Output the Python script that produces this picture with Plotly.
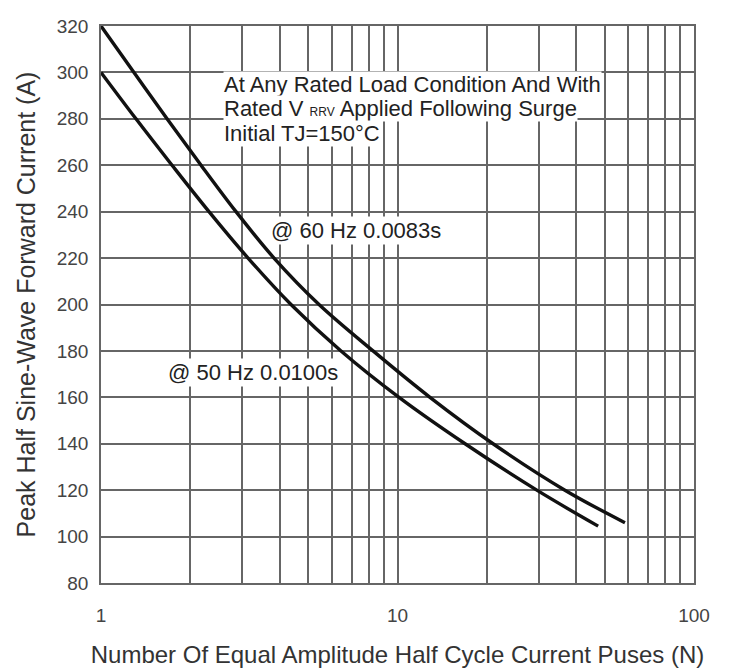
import plotly.graph_objects as go

# ---- data ----
n_60hz = [1, 1.292, 1.670, 2.175, 2.853, 3.833, 5.436, 8.27, 12.87, 21.0, 36.7, 58.5]
i_60hz = [320, 300, 280, 260, 240, 220, 200, 180, 160, 140, 120, 106]

n_50hz = [1, 1.312, 1.736, 2.313, 3.133, 4.373, 6.449, 10.12, 16.9, 29.5, 47.5]
i_50hz = [300, 280, 260, 240, 220, 200, 180, 160, 140, 120, 104.5]

x_tickvals = [1, 2, 3, 4, 5, 6, 7, 8, 9, 10, 20, 30, 40, 50, 60, 70, 80, 90, 100]
x_ticktext = ["1", "", "", "", "", "", "", "", "", "10", "", "", "", "", "", "", "", "", "100"]
y_tickvals = [80, 100, 120, 140, 160, 180, 200, 220, 240, 260, 280, 300, 320]

label_60 = "@ 60 Hz 0.0083s"
label_50 = "@ 50 Hz 0.0100s"
note_lines = [
    "At Any Rated Load Condition And With",
    "Rated V <span style='font-size:12px'>RRV</span> Applied Following Surge",
    "Initial TJ=150°C",
]

FONT = "Liberation Sans, Arial, sans-serif"
GRID = "#666666"

fig = go.Figure()
for xs, ys, nm in [(n_60hz, i_60hz, "60 Hz"), (n_50hz, i_50hz, "50 Hz")]:
    fig.add_trace(go.Scatter(x=xs, y=ys, mode="lines",
                             line=dict(color="#111111", width=3.4, shape="spline", smoothing=1.0),
                             name=nm, showlegend=False, hoverinfo="x+y"))

fig.update_layout(
    width=724, height=664,
    margin=dict(l=93, r=38, t=8, b=85),
    paper_bgcolor="white", plot_bgcolor="white",
    font=dict(family=FONT, color="#333333"),
    xaxis=dict(type="log", range=[0, 2],
               tickmode="array", tickvals=x_tickvals, ticktext=x_ticktext,
               showgrid=True, gridcolor=GRID, gridwidth=1.6,
               showline=True, linecolor=GRID, linewidth=1.6, mirror=True,
               ticks="", zeroline=False,
               tickfont=dict(size=19, color="#444444", family=FONT),
               ticklabelstandoff=14,
               title=dict(text="Number Of Equal Amplitude Half Cycle Current Puses (N)",
                          font=dict(size=24, color="#333333", family=FONT), standoff=22)),
    yaxis=dict(range=[80, 320], tickmode="array", tickvals=y_tickvals,
               showgrid=True, gridcolor=GRID, gridwidth=1.6,
               showline=True, linecolor=GRID, linewidth=1.6, mirror=True,
               ticks="", zeroline=False, ticklabeloverflow="allow",
               tickfont=dict(size=19, color="#444444", family=FONT),
               ticklabelstandoff=7,
               title=dict(text="Peak Half Sine-Wave Forward Current (A)",
                          font=dict(size=25, color="#333333", family=FONT), standoff=14)),
)

note_y = [0.895, 0.851, 0.807]
for txt, yy in zip(note_lines, note_y):
    fig.add_annotation(xref="paper", yref="paper", x=0.2055, y=yy, text=txt,
                       showarrow=False, xanchor="left", yanchor="middle",
                       font=dict(size=22, color="#222222", family=FONT),
                       bgcolor="white", borderpad=0)

fig.add_annotation(xref="paper", yref="paper", x=0.284, y=0.633, text=label_60,
                   showarrow=False, xanchor="left", yanchor="middle",
                   font=dict(size=22, color="#222222", family=FONT),
                   bgcolor="white", borderpad=1)
fig.add_annotation(xref="paper", yref="paper", x=0.110, y=0.3775, text=label_50,
                   showarrow=False, xanchor="left", yanchor="middle",
                   font=dict(size=22, color="#222222", family=FONT),
                   bgcolor="white", borderpad=1)

fig.write_html("out.html")
